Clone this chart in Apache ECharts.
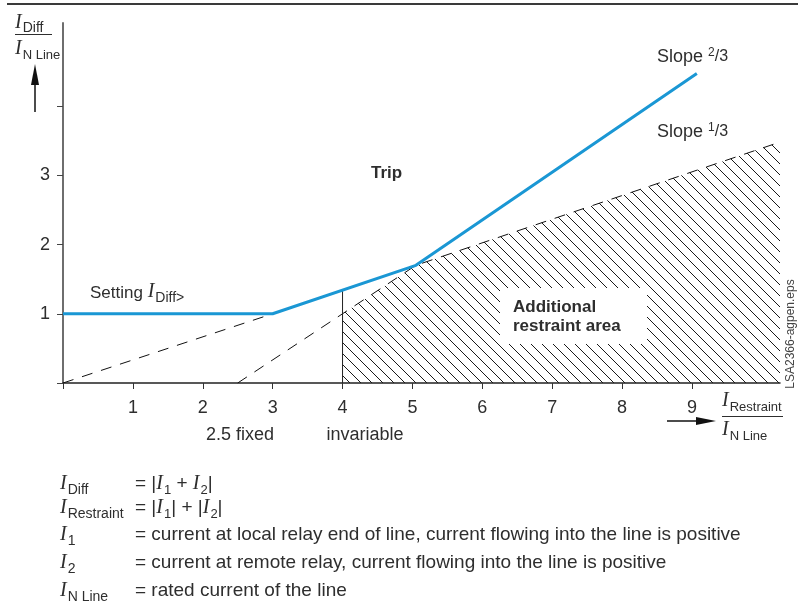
<!DOCTYPE html>
<html>
<head>
<meta charset="utf-8">
<script src="https://cdn.jsdelivr.net/npm/echarts@6/dist/echarts.min.js"></script>
<style>
html,body{margin:0;padding:0;background:#fff;}
#chart{width:798px;height:604px;}
</style>
</head>
<body>
<div id="chart"></div>
<script>
// ---- data ----
const xMax = 10.26;
const yMax = 5.2;
const xTickValues = [0, 1, 2, 3, 4, 5, 6, 7, 8, 9];
const xLabelValues = [1, 2, 3, 4, 5, 6, 7, 8, 9];
const yTickValues = [0, 1, 2, 3, 4];
const yLabelValues = [1, 2, 3];
const tripCharacteristic = [[0, 1], [3, 1], [5.05, 1.70], [9.07, 4.47]];
const dashedFixed = [[0, 0], [3, 1]];
const dashedRestraint = [[2.5, 0], [4, 1], [5.05, 1.70], [10.26, 3.48]];
const hatchTop = [[4, 1], [5.05, 1.70], [10.26, 3.48]];
const invariableLine = [[4, 0], [4, 1.34]];

// ---- styles ----
const INK = '#2e2e2e';
const SANS = "'Liberation Sans', Arial, sans-serif";
const F17 = '17px ' + SANS;
const F18 = '18px ' + SANS;
const F19 = '19px ' + SANS;
const F14 = '14px ' + SANS;
const F13 = '13px ' + SANS;
const FB = 'bold 17px ' + SANS;
const FI = "italic 20px 'Liberation Serif', serif";

const mctx = document.createElement('canvas').getContext('2d');
function measure(t, font) { mctx.font = font; return mctx.measureText(t).width; }
function txt(text, x, y, font, extra) {
  return Object.assign({
    type: 'text', x: x, y: y, z: 100, silent: true,
    style: { text: text, font: font, fill: INK, align: 'left', verticalAlign: 'middle', textAlign: 'left', textVerticalAlign: 'middle' }
  }, extra || {});
}
function txtC(text, x, y, font) {
  const e = txt(text, x, y, font);
  e.style.align = 'center'; e.style.textAlign = 'center';
  return e;
}
function seq(x, y, parts) {
  let cx = x; const els = [];
  parts.forEach(function (p) {
    els.push(txt(p[0], cx, y + (p[2] || 0), p[1]));
    cx += measure(p[0], p[1]) + (p[3] || 0);
  });
  return els;
}
function line(x1, y1, x2, y2, w, c) {
  return { type: 'line', z: 100, silent: true, shape: { x1: x1, y1: y1, x2: x2, y2: y2 }, style: { stroke: c || INK, lineWidth: w || 1 } };
}
function poly(pts, c) {
  return { type: 'polygon', z: 100, silent: true, shape: { points: pts }, style: { fill: c || '#111' } };
}

// hatch pattern
const pat = document.createElement('canvas');
const S = 11;
pat.width = S; pat.height = S;
(function () {
  const c = pat.getContext('2d');
  c.strokeStyle = '#1a1a1a'; c.lineWidth = 1;
  c.beginPath();
  c.moveTo(-2, -2); c.lineTo(S + 2, S + 2);
  c.moveTo(-2, S - 2); c.lineTo(2, S + 2);
  c.moveTo(S - 2, -2); c.lineTo(S + 2, 2);
  c.stroke();
})();

const graphics = [];
// top rule
graphics.push(line(7, 4, 798, 4, 2, '#3a3a3a'));
// y axis label fraction
graphics.push(...seq(15, 23, [['I', FI, 0, 1], ['Diff', F14, 5]]));
graphics.push(line(15, 34.5, 52, 34.5, 1, INK));
graphics.push(...seq(15, 49, [['I', FI, 0, 1], ['N Line', F13, 6]]));
graphics.push(line(35, 112, 35, 80, 1.5, '#111'));
graphics.push(poly([[35, 64], [31, 85], [39, 85]]));
// x axis label fraction
graphics.push(...seq(722, 401, [['I', FI, 0, 1], ['Restraint', F13, 6]]));
graphics.push(line(722, 416.5, 783, 416.5, 1, INK));
graphics.push(...seq(722, 430, [['I', FI, 0, 1], ['N Line', F13, 6]]));
graphics.push(line(667, 421, 700, 421, 1.5, '#111'));
graphics.push(poly([[696, 417], [716, 421], [696, 425]]));
// annotations
graphics.push(txt('Trip', 371, 173, FB));
graphics.push(...seq(90, 293, [['Setting ', F17, 0], ['I', FI, -1, 1], ['Diff>', F14, 5]]));
graphics.push(...seq(657, 57, [['Slope ', F18, 0], ['2', '12px ' + SANS, -4], ['/3', '16px ' + SANS, 0]]));
graphics.push(...seq(657, 132, [['Slope ', F18, 0], ['1', '12px ' + SANS, -4], ['/3', '16px ' + SANS, 0]]));
graphics.push({ type: 'rect', z: 99, silent: true, shape: { x: 500, y: 288, width: 147, height: 56 }, style: { fill: '#fff' } });
graphics.push(txt('Additional', 513, 307, FB));
graphics.push(txt('restraint area', 513, 326, FB));
graphics.push(txtC('2.5 fixed', 240, 435, F18));
graphics.push(txtC('invariable', 365, 435, F18));
const rot = txtC('LSA2366-agpen.eps', 791, 334, '12px ' + SANS);
rot.rotation = Math.PI / 2; rot.style.fill = '#444';
graphics.push(rot);
// definitions
const rows = [484, 508, 535, 563, 591];
const eqX = 135;
graphics.push(...seq(60, rows[0], [['I', FI, 0, 1], ['Diff', F14, 6]]));
graphics.push(...seq(eqX, rows[0], [['= |', F19, 0], ['I', FI, 0, 1], ['1', F13, 6], [' + ', F19, 0], ['I', FI, 0, 1], ['2', F13, 6], ['|', F19, 0]]));
graphics.push(...seq(60, rows[1], [['I', FI, 0, 1], ['Restraint', F14, 6]]));
graphics.push(...seq(eqX, rows[1], [['= |', F19, 0], ['I', FI, 0, 1], ['1', F13, 6], ['| + |', F19, 0], ['I', FI, 0, 1], ['2', F13, 6], ['|', F19, 0]]));
graphics.push(...seq(60, rows[2], [['I', FI, 0, 1], ['1', F14, 6]]));
graphics.push(txt('= current at local relay end of line, current flowing into the line is positive', eqX, rows[2], F19));
graphics.push(...seq(60, rows[3], [['I', FI, 0, 1], ['2', F14, 6]]));
graphics.push(txt('= current at remote relay, current flowing into the line is positive', eqX, rows[3], F19));
graphics.push(...seq(60, rows[4], [['I', FI, 0, 1], ['N Line', F14, 6]]));
graphics.push(txt('= rated current of the line', eqX, rows[4], F19));

const chart = echarts.init(document.getElementById('chart'), null, { renderer: 'canvas' });
chart.setOption({
  animation: false,
  backgroundColor: '#fff',
  grid: { left: 63, right: 798 - 780, top: 23, bottom: 604 - 383, containLabel: false },
  xAxis: {
    type: 'value', min: 0, max: xMax, interval: 1,
    axisLine: { show: true, onZero: false, lineStyle: { color: '#222', width: 1.5 } },
    axisTick: { show: true, length: 6, customValues: xTickValues, lineStyle: { color: '#333', width: 1 } },
    axisLabel: { customValues: xLabelValues, color: INK, fontSize: 18, fontFamily: SANS, margin: 16 },
    splitLine: { show: false }
  },
  yAxis: {
    type: 'value', min: 0, max: yMax, interval: 1,
    axisLine: { show: true, onZero: false, lineStyle: { color: '#6e6e6e', width: 2 } },
    axisTick: { show: true, length: 6, customValues: yTickValues, lineStyle: { color: '#444', width: 1 } },
    axisLabel: { customValues: yLabelValues, color: INK, fontSize: 18, fontFamily: SANS, margin: 13 },
    splitLine: { show: false }
  },
  series: [
    { type: 'line', data: hatchTop, symbol: 'none', z: 1,
      lineStyle: { width: 0, opacity: 0 },
      areaStyle: { color: { image: pat, repeat: 'repeat' }, opacity: 1 } },
    { type: 'line', data: dashedFixed, symbol: 'none', z: 3,
      lineStyle: { color: '#111', width: 1, type: [11, 9] } },
    { type: 'line', data: dashedRestraint, symbol: 'none', z: 3,
      lineStyle: { color: '#111', width: 1, type: [11, 9] } },
    { type: 'line', data: invariableLine, symbol: 'none', z: 3,
      lineStyle: { color: '#222', width: 1 } },
    { type: 'line', data: tripCharacteristic, symbol: 'none', z: 5,
      lineStyle: { color: '#1a97d4', width: 3 } }
  ],
  graphic: { elements: graphics }
});
</script>
</body>
</html>
